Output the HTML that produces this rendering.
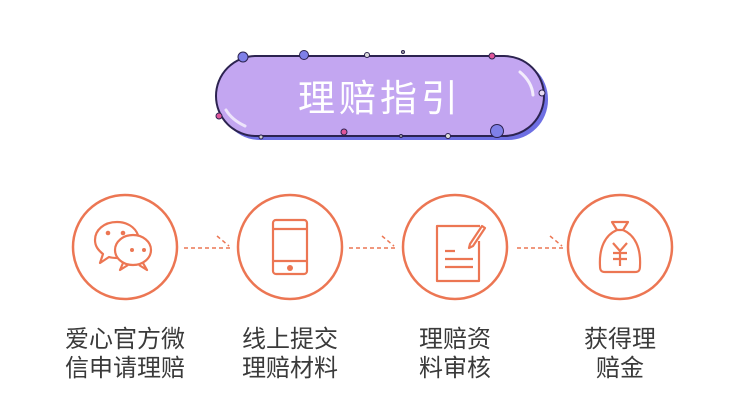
<!DOCTYPE html>
<html><head><meta charset="utf-8"><style>
body{margin:0;width:750px;height:420px;background:#fff;overflow:hidden;position:relative;font-family:"Liberation Sans","Noto Sans CJK SC",sans-serif}
.lbl{position:absolute;width:160px;text-align:center;font-size:24px;line-height:29px;color:#3a3a3a;top:325px}
</style></head><body>
<svg width="750" height="420" style="position:absolute;left:0;top:0">
<rect x="220" y="59" width="328" height="81" rx="40" fill="#6e6fe3"/>
<rect x="216" y="56" width="328" height="80" rx="40" fill="#c3a6f1" stroke="#2c2350" stroke-width="2"/>
<path d="M520 72 Q532 82 533 95" stroke="#fff" stroke-width="3" fill="none" stroke-linecap="round" opacity=".8"/>
<path d="M226 110 Q232 120 245 126" stroke="#fff" stroke-width="3" fill="none" stroke-linecap="round" opacity=".7"/>
<g stroke="#2c2350" stroke-width="1">
<circle cx="243" cy="57" r="5" fill="#7f80e8"/>
<circle cx="304" cy="55" r="4.5" fill="#7f80e8"/>
<circle cx="367" cy="55" r="2.5" fill="#ddd"/>
<circle cx="403" cy="52" r="1.5" fill="#aaa"/>
<circle cx="492" cy="56" r="3" fill="#e0569a"/>
<circle cx="542" cy="93" r="3" fill="#e8dcf5"/>
<circle cx="219" cy="116" r="3" fill="#e0569a"/>
<circle cx="261" cy="137" r="2" fill="#ccc"/>
<circle cx="344" cy="132" r="3" fill="#e0569a"/>
<circle cx="401" cy="136" r="1.5" fill="#aaa"/>
<circle cx="448" cy="136" r="2.5" fill="#ddd"/>
<circle cx="497" cy="131" r="6.5" fill="#7f80e8"/>
</g>
<text x="380" y="111" text-anchor="middle" fill="#fff" font-size="37" font-family="Liberation Sans,Noto Sans CJK SC,sans-serif" letter-spacing="4">理赔指引</text>
<g fill="none" stroke="#ec7653" stroke-width="2.5">
<circle cx="125" cy="247" r="52"/>
<circle cx="290" cy="247" r="52"/>
<circle cx="455" cy="247" r="52"/>
<circle cx="620" cy="247" r="52"/>
</g>
<g stroke="#ec7653" stroke-width="1.5" stroke-dasharray="4 3" fill="none">
<path d="M184 248H230M217 236L229 246"/>
<path d="M349 248H395M382 236L394 246"/>
<path d="M517 248H563M550 236L562 246"/>
</g>
<g fill="none" stroke="#ec7653" stroke-width="2.2" stroke-linejoin="round">
<path d="M117 222c-13 0-22 8-22 18c0 6 3 10 8 14l-3 9l9-6c3 1 6 1 9 1"/>
<ellipse cx="133" cy="250" rx="18" ry="15"/>
<path d="M123 263l-3 7l8-5M143 263l4 7l-8-5"/>
<path d="M117 222c10 0 18 5 21 13"/>
<rect x="273" y="220" width="34" height="54" rx="3"/>
<path d="M273 229H307M273 261H307"/>
<path d="M480 226H437v55h42v-40"/>
<path d="M470 244l12-18l3 2l-12 18l-4 2z"/>
<path d="M445 251h10M445 259h28M445 267h28"/>
<path d="M612 222h16l-5 8h-6z"/>
<path d="M617 230c-12 5-18 18-17 36c0 4 1 6 5 6h30c4 0 5-2 5-6c1-18-5-31-17-36"/>
<path d="M613 243l7 8l7-8M620 251v15M613 253h14M613 259h14"/>
</g>
<g fill="#ec7653">
<circle cx="108" cy="233" r="2.3"/><circle cx="123" cy="233" r="2.3"/>
<circle cx="132" cy="250" r="2"/><circle cx="144" cy="250" r="2"/>
<circle cx="290" cy="268" r="3"/>
</g>
</svg>
<div class="lbl" style="left:45px">爱心官方微<br>信申请理赔</div>
<div class="lbl" style="left:210px">线上提交<br>理赔材料</div>
<div class="lbl" style="left:375px">理赔资<br>料审核</div>
<div class="lbl" style="left:540px">获得理<br>赔金</div>
</body></html>
